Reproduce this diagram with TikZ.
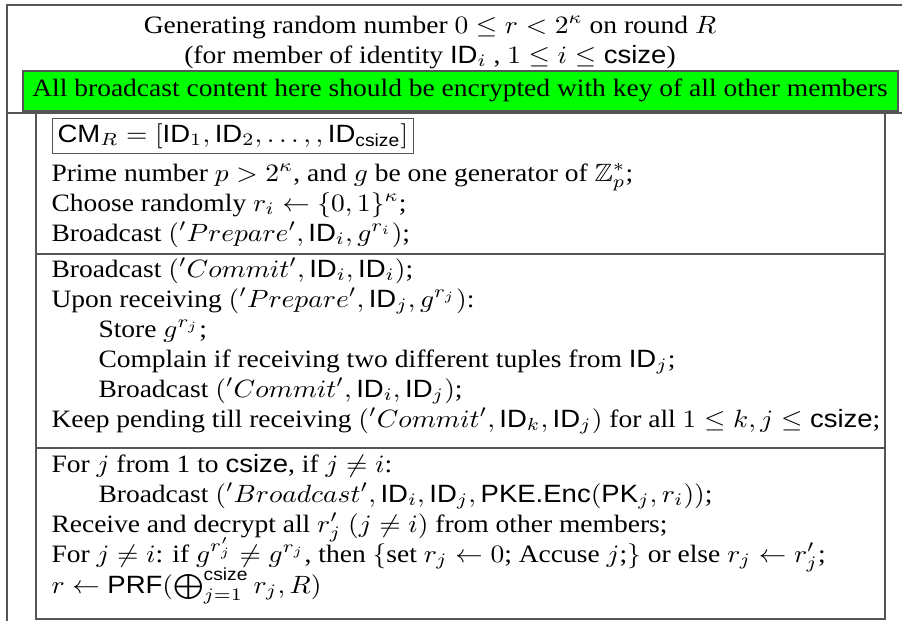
\documentclass[tikz,border=0pt]{standalone}
\usepackage{amsmath,amssymb}
\usepackage{graphicx}
\usepackage[no-math]{fontspec}
\setmainfont{Liberation Serif}
\setsansfont{Liberation Sans}
\newcommand{\sfx}[1]{\text{\sffamily #1}}
\newcommand{\ws}[1]{\scalebox{1.1}[1]{#1}}
\definecolor{framegray}{HTML}{555555}
\definecolor{boxgreen}{HTML}{00FF00}
\begin{document}
\begin{tikzpicture}[x=0.4pt,y=-0.4pt,
  rule/.style={draw=framegray,line width=0.5pt},
  txt/.style={anchor=base west,inner sep=0pt,font=\fontsize{10}{12}\selectfont},
  ctxt/.style={anchor=base,inner sep=0pt,font=\fontsize{10}{12}\selectfont}]
\useasboundingbox (0,0) rectangle (902,621);
% outer frame
\draw[rule] (7,621) -- (7,5) -- (902,5);
\draw[rule] (7,113) -- (902,113);
% title
\node[ctxt] (t1) at (430,33) {\ws{Generating random number $0 \leq r < 2^\kappa$ on round $R$}};
\node[ctxt] (t2) at (430,63) {\ws{(for member of identity $\sfx{ID}_i$ , $1 \leq i \leq \sfx{csize}$)}};
% green banner
\path[fill=boxgreen,draw=framegray,line width=0.5pt] (23,71) rectangle (898,111);
\node[ctxt] (green) at (460,96) {\ws{All broadcast content here should be encrypted with key of all other members}};
% main box
\draw[rule] (36,113) rectangle (885,619);
\draw[rule] (36,254) -- (885,254);
\draw[rule] (36,448) -- (885,448);
% rows
\node[txt,draw=framegray,line width=0.5pt,inner sep=2pt] (cm) at (52,142) {\ws{$\sfx{CM}_R = [\sfx{ID}_1, \sfx{ID}_2, \ldots, , \sfx{ID}_{\sfx{csize}}]$}};
\node[txt] (l1) at (51,181) {\ws{Prime number $p > 2^\kappa$, and $g$ be one generator of $\mathbb{Z}_p^*$;}};
\node[txt] (l2) at (51,211) {\ws{Choose randomly $r_i \leftarrow \{0,1\}^\kappa$;}};
\node[txt] (l3) at (51,241) {\ws{Broadcast $('Prepare', \sfx{ID}_i, g^{r_i})$;}};
\node[txt] (l4) at (51,277) {\ws{Broadcast $('Commit', \sfx{ID}_i, \sfx{ID}_i)$;}};
\node[txt] (l5) at (51,307) {\ws{Upon receiving $('Prepare', \sfx{ID}_j, g^{r_j})$:}};
\node[txt] (l6) at (98,337) {\ws{Store $g^{r_j}$;}};
\node[txt] (l7) at (98,367) {\ws{Complain if receiving two different tuples from $\sfx{ID}_j$;}};
\node[txt] (l8) at (98,397) {\ws{Broadcast $('Commit', \sfx{ID}_i, \sfx{ID}_j)$;}};
\node[txt] (l9) at (51,427) {\ws{Keep pending till receiving $('Commit', \sfx{ID}_k, \sfx{ID}_j)$ for all $1 \leq k, j \leq \sfx{csize}$;}};
\node[txt] (l10) at (51,472) {\ws{For $j$ from 1 to \textsf{csize}, if $j \neq i$:}};
\node[txt] (l11) at (98,502) {\ws{Broadcast $('Broadcast', \sfx{ID}_i, \sfx{ID}_j, \sfx{PKE.Enc}(\sfx{PK}_j, r_i))$;}};
\node[txt] (l12) at (51,532) {\ws{Receive and decrypt all $r'_j$ $(j \neq i)$ from other members;}};
\node[txt] (l13) at (51,562) {\ws{For $j \neq i$: if $g^{r'_j} \neq g^{r_j}$, then $\{$set $r_j \leftarrow 0$; Accuse $j$;$\}$ or else $r_j \leftarrow r'_j$;}};
\node[txt] (l14) at (51,593) {\ws{$r \leftarrow \sfx{PRF}(\bigoplus_{j=1}^{\sfx{csize}} r_j, R)$}};
\end{tikzpicture}
\end{document}
